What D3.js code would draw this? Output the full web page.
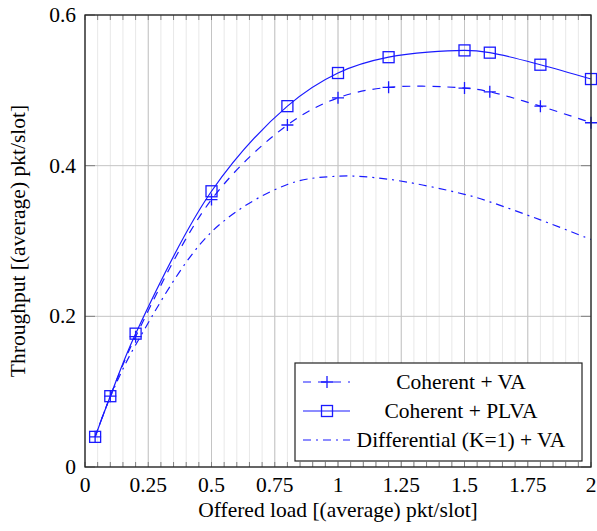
<!DOCTYPE html>
<html>
<head>
<meta charset="utf-8">
<script src="https://cdn.jsdelivr.net/npm/d3@7"></script>
<style>
  body { margin: 0; background: #fff; }
  svg text { font-family: "Liberation Serif", "Times New Roman", Times, serif; }
</style>
</head>
<body>
<script>
// offered load values where each curve was sampled
const loads = [0.04, 0.1, 0.2, 0.5, 0.8, 1.0, 1.2, 1.5, 1.6, 1.8, 2.0];
const coherentVA = [0.040, 0.094, 0.173, 0.355, 0.454, 0.490, 0.504, 0.503, 0.498, 0.479, 0.457];
const coherentPLVA = [0.040, 0.094, 0.177, 0.366, 0.479, 0.523, 0.544, 0.553, 0.550, 0.534, 0.515];
const differentialVA = [0.040, 0.093, 0.162, 0.312, 0.375, 0.386, 0.382, 0.362, 0.352, 0.328, 0.302];
const seriesNames = ["Coherent + VA", "Coherent + PLVA", "Differential (K=1) + VA"];
const xTicks = [0, 0.25, 0.5, 0.75, 1, 1.25, 1.5, 1.75, 2];
const yTicks = [0, 0.2, 0.4, 0.6];

const width = 597, height = 531;
const margin = { top: 15, right: 6, bottom: 64, left: 85 };
const blue = "#1a1aff";
const fs = 21.5;

const svg = d3.select("body").append("svg")
  .attr("width", width)
  .attr("height", height);

const x = d3.scaleLinear().domain([0, 2]).range([margin.left, width - margin.right]);
const y = d3.scaleLinear().domain([0, 0.6]).range([height - margin.bottom, margin.top]);

const grid = svg.append("g");
const minorX = d3.range(0, 2.0001, 0.05);

// minor vertical grid
grid.selectAll(".minor").data(minorX).join("line")
  .attr("x1", d => x(d)).attr("x2", d => x(d))
  .attr("y1", y(0)).attr("y2", y(0.6))
  .attr("stroke", "#e8e8e8").attr("stroke-width", 1);

// major grid
grid.selectAll(".majx").data(xTicks).join("line")
  .attr("x1", d => x(d)).attr("x2", d => x(d))
  .attr("y1", y(0)).attr("y2", y(0.6))
  .attr("stroke", "#c4c4c4").attr("stroke-width", 1);
grid.selectAll(".majy").data(yTicks).join("line")
  .attr("x1", x(0)).attr("x2", x(2))
  .attr("y1", d => y(d)).attr("y2", d => y(d))
  .attr("stroke", "#c4c4c4").attr("stroke-width", 1);

// tick marks (top and bottom minor, left and right major)
const ticks = svg.append("g").attr("stroke", "#808080").attr("stroke-width", 1);
minorX.forEach(d => {
  ticks.append("line").attr("x1", x(d)).attr("x2", x(d)).attr("y1", y(0)).attr("y2", y(0) - 5);
  ticks.append("line").attr("x1", x(d)).attr("x2", x(d)).attr("y1", y(0.6)).attr("y2", y(0.6) + 5);
});
yTicks.forEach(d => {
  ticks.append("line").attr("x1", x(0)).attr("x2", x(0) + 10).attr("y1", y(d)).attr("y2", y(d));
  ticks.append("line").attr("x1", x(2)).attr("x2", x(2) - 10).attr("y1", y(d)).attr("y2", y(d));
});

// tick labels
svg.append("g").selectAll("text").data(xTicks).join("text")
  .attr("x", d => x(d)).attr("y", y(0) + 25)
  .attr("text-anchor", "middle")
  .attr("font-size", fs)
  .text(d => d3.format("")(d));
svg.append("g").selectAll("text").data(yTicks).join("text")
  .attr("x", x(0) - 9).attr("y", d => y(d) + 7)
  .attr("text-anchor", "end")
  .attr("font-size", fs)
  .text(d => d3.format("")(d));

// axis labels
svg.append("text")
  .attr("x", (x(0) + x(2)) / 2).attr("y", height - 14)
  .attr("text-anchor", "middle")
  .attr("font-size", fs)
  .text("Offered load [(average) pkt/slot]");
svg.append("text")
  .attr("transform", `translate(25, ${(y(0) + y(0.6)) / 2}) rotate(-90)`)
  .attr("text-anchor", "middle")
  .attr("font-size", fs)
  .text("Throughput [(average) pkt/slot]");

// curves
const line = d3.line()
  .x(d => x(d[0]))
  .y(d => y(d[1]))
  .curve(d3.curveCatmullRom.alpha(0.5));

const series = [
  { name: seriesNames[0], vals: coherentVA, dash: "8,7", marker: "plus" },
  { name: seriesNames[1], vals: coherentPLVA, dash: null, marker: "square" },
  { name: seriesNames[2], vals: differentialVA, dash: "8,5,2,5", marker: null }
];

const plot = svg.append("g");

function drawMarker(g, type, cx, cy) {
  if (type === "plus") {
    g.append("path")
      .attr("d", `M${cx - 6},${cy}H${cx + 6}M${cx},${cy - 6}V${cy + 6}`)
      .attr("stroke", blue).attr("stroke-width", 1.3).attr("fill", "none");
  } else if (type === "square") {
    g.append("rect")
      .attr("x", cx - 5.5).attr("y", cy - 5.5)
      .attr("width", 11).attr("height", 11)
      .attr("stroke", blue).attr("stroke-width", 1.3).attr("fill", "none");
  }
}

series.forEach(s => {
  const pts = loads.map((l, i) => [l, s.vals[i]]);
  plot.append("path")
    .attr("d", line(pts))
    .attr("fill", "none")
    .attr("stroke", blue)
    .attr("stroke-width", 1.2)
    .attr("stroke-dasharray", s.dash);
  if (s.marker) pts.forEach(p => drawMarker(plot, s.marker, x(p[0]), y(p[1])));
});

// frame
svg.append("rect")
  .attr("x", x(0)).attr("y", y(0.6))
  .attr("width", x(2) - x(0)).attr("height", y(0) - y(0.6))
  .attr("fill", "none").attr("stroke", "#222").attr("stroke-width", 1.3);

// legend
const lg = svg.append("g");
const lx = 295, ly = 363, lw = 287, lh = 98;
lg.append("rect")
  .attr("x", lx).attr("y", ly).attr("width", lw).attr("height", lh)
  .attr("fill", "#fff").attr("stroke", "#222").attr("stroke-width", 1.2);
series.forEach((s, i) => {
  const cy = ly + 19 + i * 29;
  lg.append("line")
    .attr("x1", lx + 8).attr("x2", lx + 55)
    .attr("y1", cy).attr("y2", cy)
    .attr("stroke", blue).attr("stroke-width", 1.2)
    .attr("stroke-dasharray", s.dash);
  if (s.marker) drawMarker(lg, s.marker, lx + 32, cy);
  lg.append("text")
    .attr("x", 461).attr("y", cy + 7)
    .attr("text-anchor", "middle")
    .attr("font-size", fs)
    .text(s.name);
});
</script>
</body>
</html>
